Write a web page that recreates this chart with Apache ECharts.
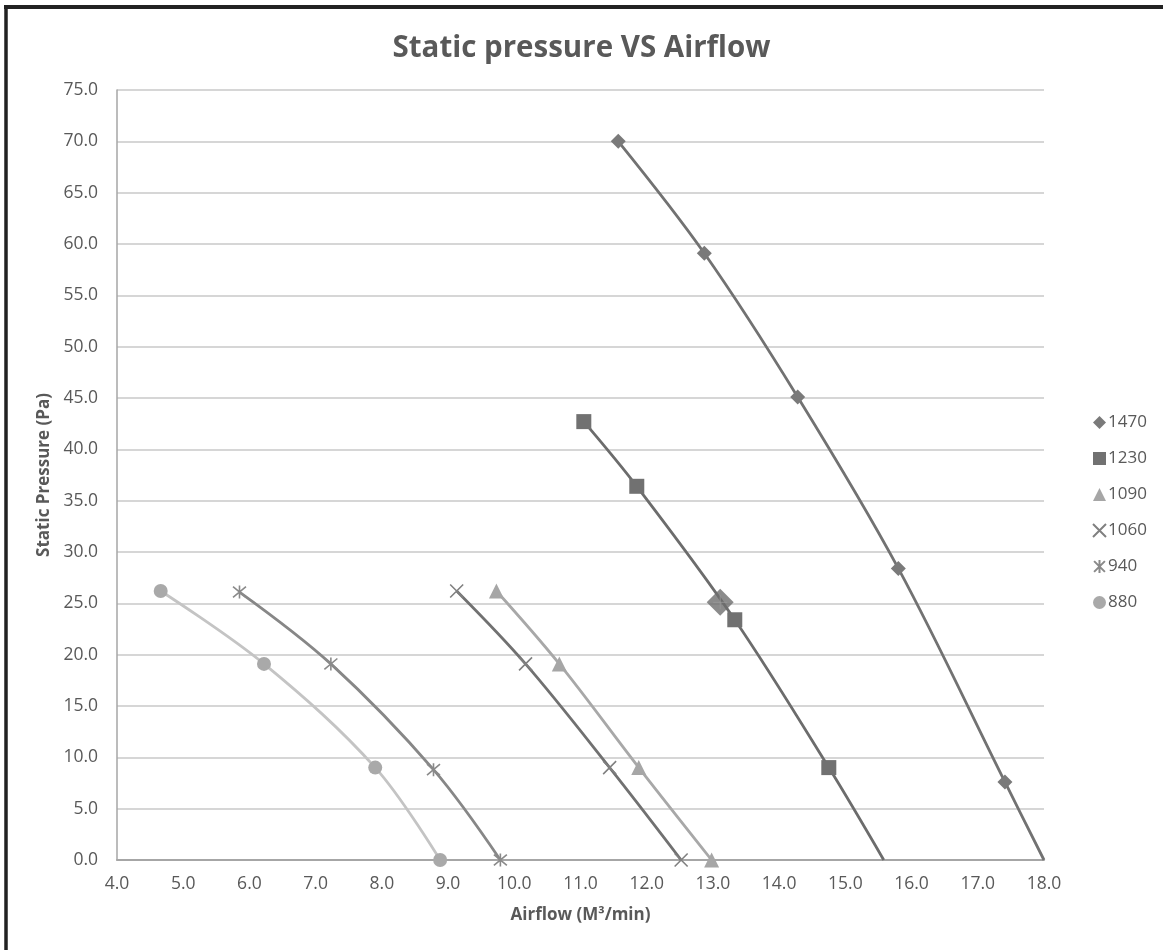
<!DOCTYPE html>
<html>
<head>
<meta charset="utf-8">
<script src="https://cdn.jsdelivr.net/npm/echarts@6/dist/echarts.min.js"></script>
<style>
html,body{margin:0;padding:0;background:#fff;}
#chart{width:1163px;height:950px;}
</style>
</head>
<body>
<div id="chart"></div>
<script>
// ---- data ----
const seriesNames = ['1470', '1230', '1090', '1060', '940', '880'];
const airflow1470 = [11.57, 12.87, 14.28, 15.80, 17.41, 18.0];
const pressure1470 = [70.0, 59.1, 45.1, 28.4, 7.6, 0.0];
const airflow1230 = [11.05, 11.85, 13.33, 14.75, 15.58];
const pressure1230 = [42.7, 36.4, 23.4, 9.0, 0.0];
const airflow1090 = [9.73, 10.68, 11.88, 12.98];
const pressure1090 = [26.2, 19.1, 9.0, 0.0];
const airflow1060 = [9.13, 10.17, 11.44, 12.52];
const pressure1060 = [26.2, 19.1, 9.0, 0.0];
const airflow940 = [5.85, 7.23, 8.78, 9.79];
const pressure940 = [26.1, 19.1, 8.8, 0.0];
const airflow880 = [4.66, 6.22, 7.90, 8.88];
const pressure880 = [26.2, 19.1, 9.0, 0.0];
// highlighted operating point (large diamond)
const opAirflow = [13.11];
const opPressure = [25.1];
// series whose last (zero-pressure) point carries no marker
const unmarkedEnd = ['1470', '1230'];

const xTicks = {min: 4, max: 18, interval: 1};
const yTicks = {min: 0, max: 75, interval: 5};

// ---- styling ----
const styles = {
  '1470': {line: '#727272', fill: '#7a7a7a', symbol: 'diamond', size: 15},
  '1230': {line: '#6c6c6c', fill: '#717171', symbol: 'rect', size: 15},
  '1090': {line: '#a8a8a8', fill: '#a6a6a6', symbol: 'triangle', size: 15},
  '1060': {line: '#717171', fill: 'transparent', border: '#808080', symbol: 'path://M0,0L10,10M10,0L0,10', size: 13},
  '940':  {line: '#878787', fill: 'transparent', border: '#8a8a8a', symbol: 'path://M0,0L10,10M10,0L0,10M5,-1L5,11', size: 13},
  '880':  {line: '#c4c4c4', fill: '#a9a9a9', symbol: 'circle', size: 14}
};
const dataMap = {
  '1470': [airflow1470, pressure1470],
  '1230': [airflow1230, pressure1230],
  '1090': [airflow1090, pressure1090],
  '1060': [airflow1060, pressure1060],
  '940': [airflow940, pressure940],
  '880': [airflow880, pressure880]
};

const FONT = '"Open Sans", "Noto Sans", sans-serif';

const series = seriesNames.map(name => {
  const [xs, ys] = dataMap[name];
  const st = styles[name];
  const data = xs.map((x, i) => {
    const item = {value: [x, ys[i]]};
    if (unmarkedEnd.includes(name) && i === xs.length - 1) item.symbol = 'none';
    return item;
  });
  return {
    name: name,
    type: 'line',
    data: data,
    smooth: 0.35,
    symbol: st.symbol,
    symbolSize: st.size,
    showAllSymbol: true,
    lineStyle: {color: st.line, width: 2.8},
    itemStyle: {
      color: st.fill,
      borderColor: st.border || st.fill,
      borderWidth: st.border ? 1.6 : 0
    },
    emphasis: {disabled: true},
    z: 3
  };
});

// operating point
series.push({
  name: 'op',
  type: 'scatter',
  data: opAirflow.map((x, i) => [x, opPressure[i]]),
  symbol: 'diamond',
  symbolSize: 27,
  itemStyle: {color: '#6e6e6e'},
  z: 5,
  silent: true
});
series.push({
  name: 'opCross',
  type: 'scatter',
  data: opAirflow.map((x, i) => [x, opPressure[i]]),
  symbol: 'path://M0,5L10,5M5,0L5,10',
  symbolSize: 14,
  itemStyle: {color: 'transparent', borderColor: '#9a9a9a', borderWidth: 1},
  z: 6,
  silent: true
});

const chart = echarts.init(document.getElementById('chart'), null, {renderer: 'canvas'});
chart.setOption({
  backgroundColor: '#ffffff',
  animation: false,
  title: {
    text: 'Static pressure VS Airflow',
    left: 'center',
    top: 29,
    textStyle: {fontFamily: FONT, fontSize: 29.5, fontWeight: 'bold', color: '#595959'}
  },
  grid: {left: 117, right: 119, top: 90, bottom: 90, containLabel: false},
  legend: {
    orient: 'vertical',
    left: 1087,
    top: 409,
    itemWidth: 13,
    itemHeight: 13,
    itemGap: 19,
    data: seriesNames.map(n => ({name: n, icon: styles[n].symbol})),
    textStyle: {fontFamily: FONT, fontSize: 17, color: '#595959', padding: [0, 0, 0, -3]},
    selectedMode: false
  },
  xAxis: {
    type: 'value',
    min: xTicks.min, max: xTicks.max, interval: xTicks.interval,
    name: 'Airflow (M³/min)',
    nameLocation: 'middle',
    nameGap: 47,
    nameTextStyle: {fontFamily: FONT, fontSize: 17, fontWeight: 'bold', color: '#595959'},
    axisLine: {show: true, onZero: false, lineStyle: {color: '#a6a6a6', width: 2}},
    axisTick: {show: false},
    splitLine: {show: false},
    axisLabel: {fontFamily: FONT, fontSize: 17.5, color: '#595959', margin: 15,
      formatter: v => v.toFixed(1)}
  },
  yAxis: {
    type: 'value',
    min: yTicks.min, max: yTicks.max, interval: yTicks.interval,
    name: 'Static Pressure (Pa)',
    nameLocation: 'middle',
    nameGap: 58,
    nameRotate: 90,
    nameTextStyle: {fontFamily: FONT, fontSize: 17, fontWeight: 'bold', color: '#595959'},
    axisLine: {show: true, lineStyle: {color: '#a6a6a6', width: 1.5}},
    axisTick: {show: false},
    splitLine: {show: true, lineStyle: {color: '#c8c8c8', width: 1.5}},
    axisLabel: {fontFamily: FONT, fontSize: 17.5, color: '#595959', margin: 19,
      formatter: v => v.toFixed(1)}
  },
  graphic: [
    {type: 'line', shape: {x1: 4, y1: 7, x2: 1163, y2: 7}, style: {stroke: '#222', lineWidth: 4}, z: 100},
    {type: 'line', shape: {x1: 6, y1: 5, x2: 6, y2: 950}, style: {stroke: '#222', lineWidth: 3.5}, z: 100}
  ],
  series: series
});
</script>
</body>
</html>
